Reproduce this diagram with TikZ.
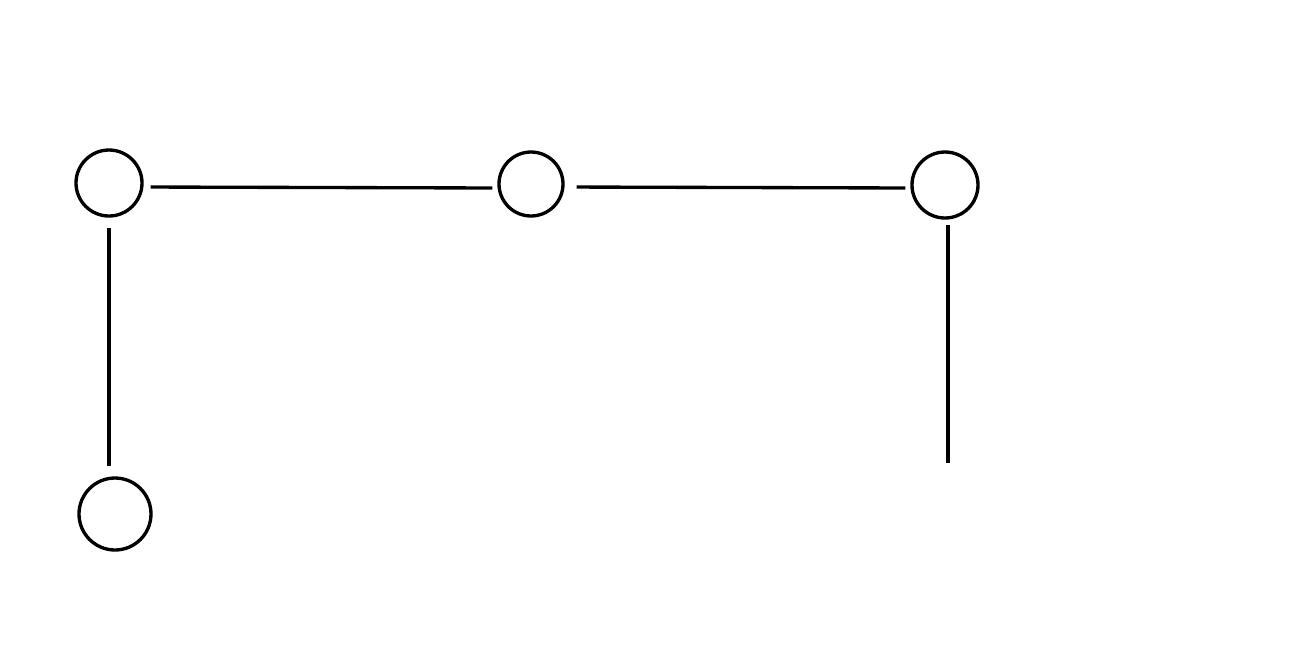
\documentclass[tikz,border=0pt]{standalone}
\usepackage{amsmath}
\usepackage{tikz}

\begin{document}
\begin{tikzpicture}[vertex/.style={draw=black,line width=0.95pt,circle,inner sep=0pt},
  edge/.style={black,line width=0.95pt}]
\useasboundingbox (0,0) rectangle (13.07,6.51);

\node[vertex,minimum size=0.66cm] (a) at (1.09,4.68) {};
\node[vertex,minimum size=0.64cm] (b) at (5.31,4.67) {};
\node[vertex,minimum size=0.66cm] (c) at (9.45,4.66) {};
\node[vertex,minimum size=0.72cm] (d) at (1.15,1.37) {};
\coordinate (e) at (9.48,1.88);

\draw[edge,shorten <=0.07cm,shorten >=0.05cm] ([yshift=-0.04cm]a.east) -- ([yshift=-0.04cm]b.west);
\draw[edge,shorten <=0.12cm,shorten >=0.05cm] ([yshift=-0.03cm]b.east) -- ([yshift=-0.03cm]c.west);
\draw[edge,shorten <=0.1cm,shorten >=0.1cm] (a.south) -- (a.south |- d.north);
\draw[edge,shorten <=0.05cm] (c.south -| e) -- (e);

\end{tikzpicture}
\end{document}
